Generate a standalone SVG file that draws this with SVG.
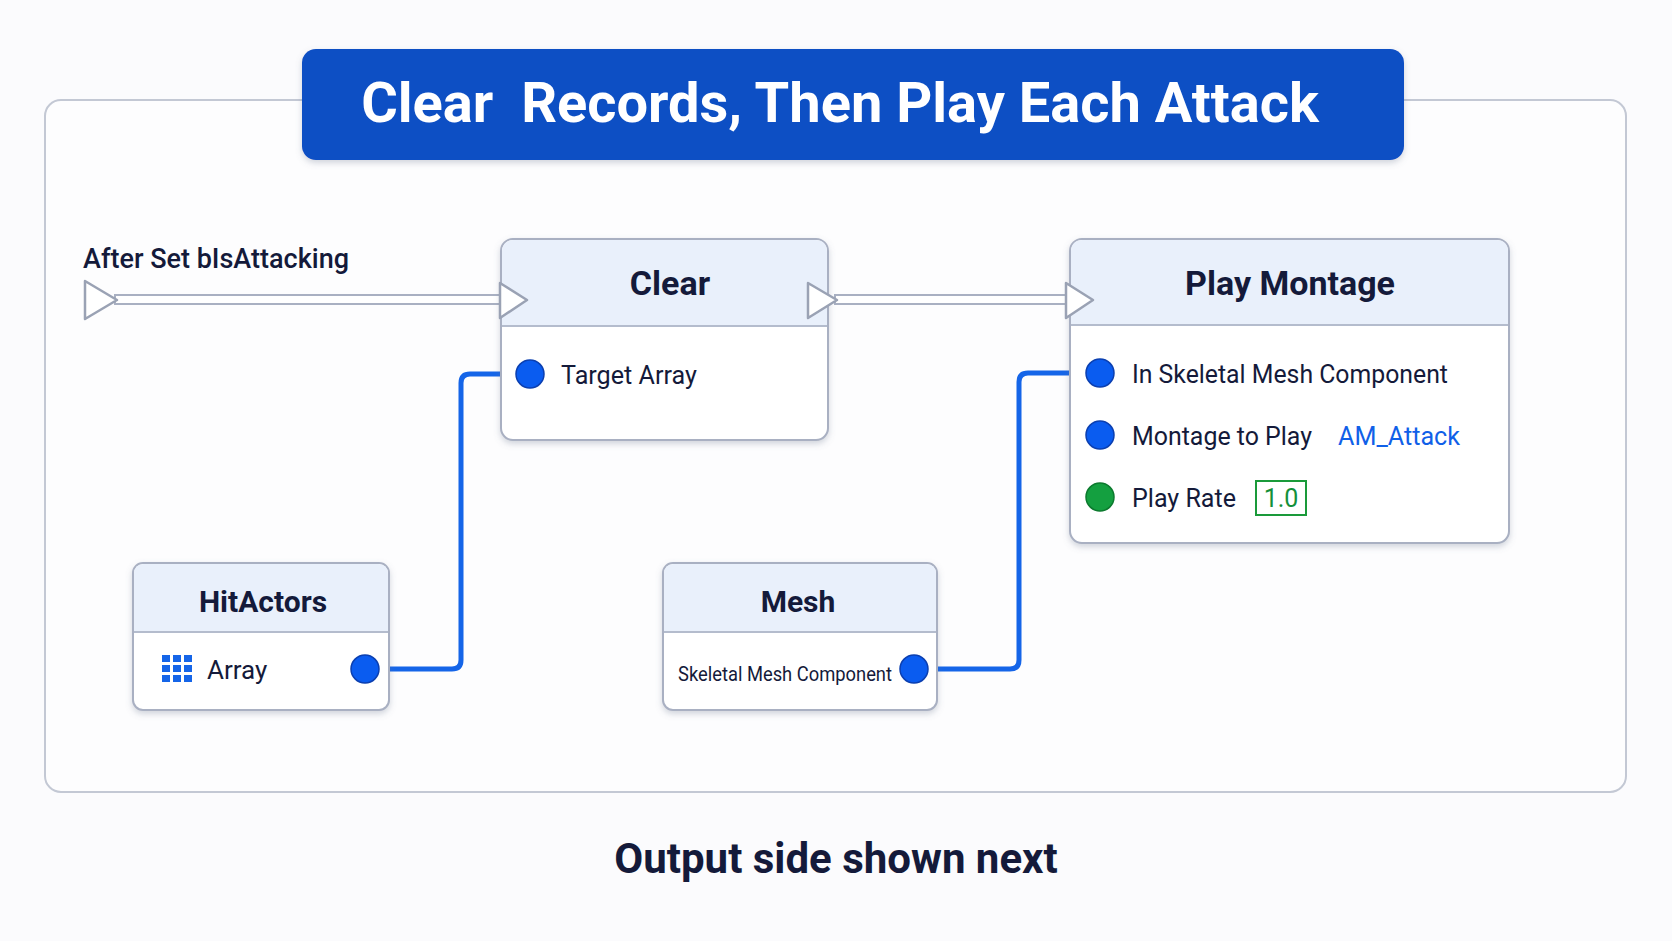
<svg xmlns="http://www.w3.org/2000/svg" width="1672" height="941" viewBox="0 0 1672 941">
<defs>
<style>
text{font-family:Roboto,"Liberation Sans",sans-serif;fill:#141a3a}
.node{fill:#fff;stroke:#a9b0c2;stroke-width:2}
.hdr{fill:#e9f0fb}
.div{stroke:#b4bccd;stroke-width:2}
.title{font-size:34px;font-weight:700;text-anchor:middle}
.pin{font-size:26px}
.wire{fill:none;stroke:#1565e8;stroke-width:5;stroke-linejoin:round}
.exec{fill:#fff;stroke:#9aa2b4;stroke-width:2.5;stroke-linejoin:round}
.bp{fill:#0a5cf0;stroke:#0b3fb0;stroke-width:1.5}
</style>
<filter id="sh" x="-5%" y="-5%" width="110%" height="115%"><feDropShadow dx="0" dy="3" stdDeviation="3" flood-color="#6a7590" flood-opacity="0.3"/></filter>
</defs>
<rect width="1672" height="941" fill="#fbfbfd"/>
<rect x="45" y="100" width="1581" height="692" rx="16" fill="#fdfdfe" stroke="#c3c8d4" stroke-width="2"/>
<g id="title">
<rect x="302" y="49" width="1102" height="111" rx="14" fill="#0a4fc4" filter="url(#sh)"/>
<text x="840" y="122" text-anchor="middle" style="fill:#fff;font-size:56px;font-weight:700">Clear&#160; Records, Then Play Each Attack</text>
</g>
<g id="connectors">
<rect x="115" y="295" width="388" height="9" fill="#fff" stroke="#a9b0c2" stroke-width="2"/>
<rect x="835" y="295" width="233" height="9" fill="#fff" stroke="#a9b0c2" stroke-width="2"/>
<path class="wire" d="M365 669 H452 Q461 669 461 660 V383 Q461 374 470 374 H530"/>
<path class="wire" d="M914 669 H1010 Q1019 669 1019 660 V382 Q1019 373 1028 373 H1100"/>
</g>
<g id="entry">
<text x="83" y="268" style="font-size:27px;font-weight:500">After Set bIsAttacking</text>
<path class="exec" d="M85 281 L117 300 L85 319 Z"/>
</g>
<g id="clear">
<rect class="node" x="501" y="239" width="327" height="201" rx="12" filter="url(#sh)"/>
<path class="hdr" d="M502 326 V252 Q502 240 514 240 H815 Q827 240 827 252 V326 Z"/>
<line class="div" x1="502" y1="326" x2="827" y2="326"/>
<text class="title" x="670" y="295">Clear</text>
<path class="exec" d="M500 283 L527 300 L500 318 Z"/>
<path class="exec" d="M808 283 L837 300 L808 318 Z"/>
<circle class="bp" cx="530" cy="374" r="14"/>
<text class="pin" x="561" y="384" textLength="136" lengthAdjust="spacingAndGlyphs">Target Array</text>
</g>
<g id="playmontage">
<rect class="node" x="1070" y="239" width="439" height="304" rx="12" filter="url(#sh)"/>
<path class="hdr" d="M1071 325 V252 Q1071 240 1083 240 H1496 Q1508 240 1508 252 V325 Z"/>
<line class="div" x1="1071" y1="325" x2="1508" y2="325"/>
<text class="title" x="1290" y="295">Play Montage</text>
<path class="exec" d="M1066 283 L1093 300 L1066 318 Z"/>
<circle class="bp" cx="1100" cy="373" r="14"/>
<text class="pin" x="1132" y="383" textLength="316" lengthAdjust="spacingAndGlyphs">In Skeletal Mesh Component</text>
<circle class="bp" cx="1100" cy="435" r="14"/>
<text class="pin" x="1132" y="445" textLength="180" lengthAdjust="spacingAndGlyphs">Montage to Play</text>
<text class="pin" x="1338" y="445" style="fill:#1060e8" textLength="122" lengthAdjust="spacingAndGlyphs">AM_Attack</text>
<circle cx="1100" cy="497" r="14" fill="#14a040" stroke="#0c7a2e" stroke-width="1.5"/>
<text class="pin" x="1132" y="507" textLength="104" lengthAdjust="spacingAndGlyphs">Play Rate</text>
<rect x="1256" y="481" width="50" height="34" fill="#fff" stroke="#1a9a3a" stroke-width="2"/>
<text x="1281" y="507" text-anchor="middle" style="font-size:25px;fill:#14903a">1.0</text>
</g>
<g id="hitactors">
<rect class="node" x="133" y="563" width="256" height="147" rx="10" filter="url(#sh)"/>
<path class="hdr" d="M134 632 V574 Q134 564 144 564 H378 Q388 564 388 574 V632 Z"/>
<line class="div" x1="134" y1="632" x2="388" y2="632"/>
<text class="title" x="263" y="612" style="font-size:30px">HitActors</text>
<g fill="#1565e8">
<rect x="162" y="655" width="8" height="7"/><rect x="173" y="655" width="8" height="7"/><rect x="184" y="655" width="8" height="7"/>
<rect x="162" y="665" width="8" height="7"/><rect x="173" y="665" width="8" height="7"/><rect x="184" y="665" width="8" height="7"/>
<rect x="162" y="675" width="8" height="7"/><rect x="173" y="675" width="8" height="7"/><rect x="184" y="675" width="8" height="7"/>
</g>
<text class="pin" x="207" y="679">Array</text>
<circle class="bp" cx="365" cy="669" r="14"/>
</g>
<g id="mesh">
<rect class="node" x="663" y="563" width="274" height="147" rx="10" filter="url(#sh)"/>
<path class="hdr" d="M664 632 V574 Q664 564 674 564 H926 Q936 564 936 574 V632 Z"/>
<line class="div" x1="664" y1="632" x2="936" y2="632"/>
<text class="title" x="798" y="612" style="font-size:30px">Mesh</text>
<text x="678" y="681" style="font-size:20px" textLength="214" lengthAdjust="spacingAndGlyphs">Skeletal Mesh Component</text>
<circle class="bp" cx="914" cy="669" r="14"/>
</g>
<text x="836" y="873" text-anchor="middle" style="font-size:42px;font-weight:700">Output side shown next</text>
</svg>
